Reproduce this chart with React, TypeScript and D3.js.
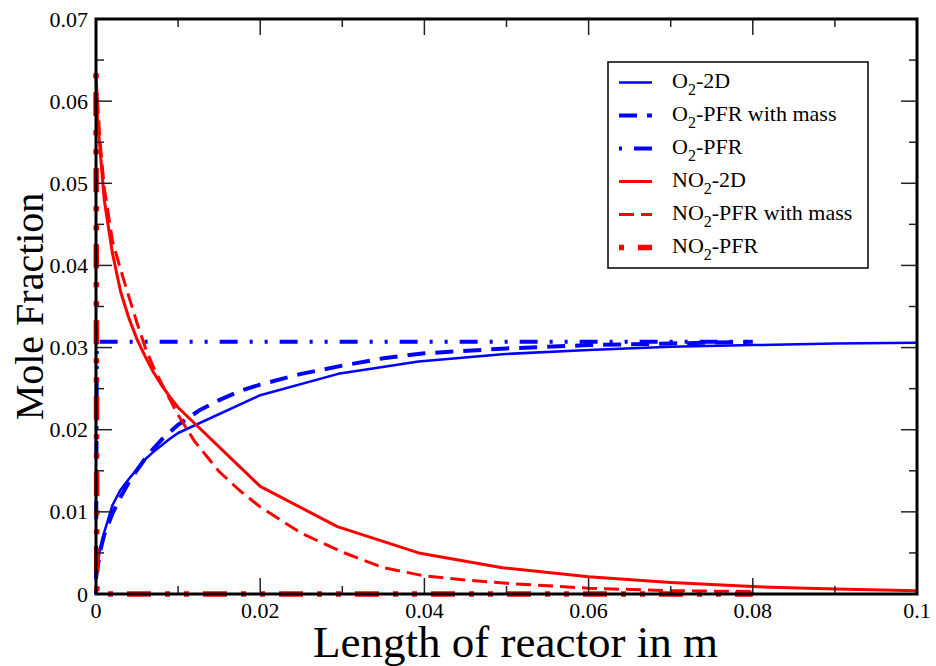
import React from "react";
import * as d3 from "d3";

// ---------- data ----------
const X_TICKS = [0, 0.02, 0.04, 0.06, 0.08, 0.1];
const X_TICK_LABELS = ["0", "0.02", "0.04", "0.06", "0.08", "0.1"];
const X_MINOR = [0.01, 0.03, 0.05, 0.07, 0.09];
const Y_TICKS = [0, 0.01, 0.02, 0.03, 0.04, 0.05, 0.06, 0.07];
const Y_TICK_LABELS = ["0", "0.01", "0.02", "0.03", "0.04", "0.05", "0.06", "0.07"];
const Y_MINOR = [0.005, 0.015, 0.025, 0.035, 0.045, 0.055, 0.065];

const O2_2D_X = [0, 0.0005, 0.001, 0.002, 0.003, 0.004, 0.005, 0.006, 0.007, 0.008, 0.009, 0.01, 0.02, 0.0295, 0.0393, 0.0495, 0.06, 0.07, 0.08, 0.09, 0.1];
const O2_2D_Y = [0.0025, 0.0055, 0.0075, 0.0108, 0.0127, 0.014, 0.0152, 0.0164, 0.0173, 0.0181, 0.0189, 0.0196, 0.0242, 0.0268, 0.0283, 0.0292, 0.0297, 0.0301, 0.0303, 0.0305, 0.0306];

const O2_MASS_X = [0, 0.0005, 0.001, 0.002, 0.003, 0.004, 0.005, 0.006, 0.007, 0.008, 0.01, 0.0125, 0.015, 0.0175, 0.02, 0.025, 0.03, 0.035, 0.04, 0.05, 0.06, 0.07, 0.08];
const O2_MASS_Y = [0.002, 0.0052, 0.0072, 0.0098, 0.0118, 0.0136, 0.0151, 0.0165, 0.0177, 0.0188, 0.0206, 0.0223, 0.0236, 0.0247, 0.0255, 0.0268, 0.0278, 0.0287, 0.0293, 0.0299, 0.0303, 0.0305, 0.0307];

const O2_PFR_X = [0, 0.0001, 0.04, 0.08];
const O2_PFR_Y = [0, 0.0307, 0.0307, 0.0307];

const NO2_2D_X = [0, 0.0005, 0.001, 0.002, 0.003, 0.004, 0.005, 0.006, 0.007, 0.008, 0.009, 0.01, 0.02, 0.0294, 0.0393, 0.0495, 0.06, 0.07, 0.08, 0.09, 0.1];
const NO2_2D_Y = [0.06, 0.054, 0.048, 0.0415, 0.0368, 0.0336, 0.031, 0.0289, 0.027, 0.0254, 0.024, 0.0227, 0.0131, 0.0082, 0.005, 0.0032, 0.0021, 0.0014, 0.0009, 0.0006, 0.0004];

const NO2_MASS_X = [0, 0.0005, 0.001, 0.002, 0.003, 0.004, 0.005, 0.006, 0.007, 0.008, 0.01, 0.012, 0.015, 0.0175, 0.02, 0.025, 0.03, 0.035, 0.04, 0.045, 0.05, 0.06, 0.07, 0.08];
const NO2_MASS_Y = [0.063, 0.055, 0.0495, 0.043, 0.0395, 0.0362, 0.033, 0.03, 0.0276, 0.0256, 0.0218, 0.0186, 0.0149, 0.0126, 0.0106, 0.0074, 0.0051, 0.0032, 0.0022, 0.0017, 0.0013, 0.0007, 0.0004, 0.0003];

const NO2_PFR_X = [0, 0.0001, 0.04, 0.08];
const NO2_PFR_Y = [0.0634, 0, 0, 0];

const SERIES_NAMES = ["O2-2D", "O2-PFR with mass", "O2-PFR", "NO2-2D", "NO2-PFR with mass", "NO2-PFR"];
const LEGEND_PREFIX = ["O", "O", "O", "NO", "NO", "NO"];
const LEGEND_SUFFIX = ["-2D", "-PFR with mass", "-PFR", "-2D", "-PFR with mass", "-PFR"];

// ---------- layout / style ----------
const W = 936;
const H = 666;
const M = { left: 96, top: 19, right: 19, bottom: 72 };
const FONT = "Liberation Serif, Times New Roman, Times, serif";

const STYLES = [
  { color: "#0000ff", width: 2.5, dash: "none" },
  { color: "#0000ff", width: 4, dash: "18,10" },
  { color: "#0000ff", width: 4, dash: "3,12,18,12,3,12" },
  { color: "#ff0000", width: 3, dash: "none" },
  { color: "#ff0000", width: 3, dash: "15,7" },
  { color: "#ff0000", width: 5.5, dash: "5,14,24,14,5,14" },
];

export default function App() {
  const x = d3.scaleLinear().domain([0, 0.1]).range([M.left, W - M.right]);
  const y = d3.scaleLinear().domain([0, 0.07]).range([H - M.bottom, M.top]);

  const seriesData = [
    [O2_2D_X, O2_2D_Y],
    [O2_MASS_X, O2_MASS_Y],
    [O2_PFR_X, O2_PFR_Y],
    [NO2_2D_X, NO2_2D_Y],
    [NO2_MASS_X, NO2_MASS_Y],
    [NO2_PFR_X, NO2_PFR_Y],
  ].map(([xs, ys]) => xs.map((v, i) => [v, ys[i]] as [number, number]));

  const line = d3
    .line<[number, number]>()
    .x((d) => x(d[0]))
    .y((d) => y(d[1]));

  const x0 = x(0), x1 = x(0.1), y0 = y(0), y1 = y(0.07);
  const MAJ = 16, MIN = 8;

  const legendX = 608, legendY = 62, legendW = 260, legendH = 206;
  const rowY = (i: number) => 82.5 + i * 33;
  const tf = { fontFamily: FONT };

  return (
    <svg
      width={W}
      height={H}
      style={{ position: "absolute", left: 0, top: 0, background: "#fff", fontFamily: FONT }}
    >
      <rect x={0} y={0} width={W} height={H} fill="#fff" />
      {/* series */}
      <g fill="none">
        {seriesData.map((d, i) => (
          <path
            key={SERIES_NAMES[i]}
            d={line(d) || ""}
            stroke={STYLES[i].color}
            strokeWidth={STYLES[i].width}
            strokeDasharray={STYLES[i].dash}
            strokeLinejoin="round"
          />
        ))}
      </g>
      {/* ticks */}
      <g stroke="#222" strokeWidth={1.5}>
        {X_TICKS.map((t) => (
          <g key={"xt" + t}>
            <line x1={x(t)} x2={x(t)} y1={y0} y2={y0 - MAJ} />
            <line x1={x(t)} x2={x(t)} y1={y1} y2={y1 + MAJ} />
          </g>
        ))}
        {X_MINOR.map((t) => (
          <g key={"xm" + t}>
            <line x1={x(t)} x2={x(t)} y1={y0} y2={y0 - MIN} />
            <line x1={x(t)} x2={x(t)} y1={y1} y2={y1 + MIN} />
          </g>
        ))}
        {Y_TICKS.map((t) => (
          <g key={"yt" + t}>
            <line x1={x0} x2={x0 + MAJ} y1={y(t)} y2={y(t)} />
            <line x1={x1} x2={x1 - MAJ} y1={y(t)} y2={y(t)} />
          </g>
        ))}
        {Y_MINOR.map((t) => (
          <g key={"ym" + t}>
            <line x1={x0} x2={x0 + MIN} y1={y(t)} y2={y(t)} />
            <line x1={x1} x2={x1 - MIN} y1={y(t)} y2={y(t)} />
          </g>
        ))}
      </g>
      {/* frame */}
      <rect x={x0} y={y1} width={x1 - x0} height={y0 - y1} fill="none" stroke="#000" strokeWidth={3} />
      {/* tick labels */}
      <g fontSize={22} fill="#000">
        {X_TICKS.map((t, i) => (
          <text key={"xl" + t} x={x(t)} y={y0 + 24} textAnchor="middle" style={tf}>
            {X_TICK_LABELS[i]}
          </text>
        ))}
        {Y_TICKS.map((t, i) => (
          <text key={"yl" + t} x={x0 - 8} y={y(t) + 7.5} textAnchor="end" style={tf}>
            {Y_TICK_LABELS[i]}
          </text>
        ))}
      </g>
      {/* axis titles */}
      <text x={(x0 + x1) / 2 + 9} y={657} textAnchor="middle" fontSize={45} fill="#000" style={tf}>
        Length of reactor in m
      </text>
      <text
        transform={`translate(43, ${(y0 + y1) / 2}) rotate(-90)`}
        textAnchor="middle"
        fontSize={40}
        fill="#000"
        style={tf}
      >
        Mole Fraction
      </text>
      {/* legend */}
      <rect x={legendX} y={legendY} width={legendW} height={legendH} fill="#fff" stroke="#000" strokeWidth={1.5} />
      {SERIES_NAMES.map((name, i) => (
        <g key={"lg" + name}>
          <line
            x1={619}
            x2={652}
            y1={rowY(i)}
            y2={rowY(i)}
            stroke={STYLES[i].color}
            strokeWidth={STYLES[i].width}
            strokeDasharray={STYLES[i].dash}
          />
          <text x={672} y={rowY(i) + 5} fontSize={22} fill="#000" style={tf}>
            <tspan>{LEGEND_PREFIX[i]}</tspan>
            <tspan fontSize={16} dy={7}>2</tspan>
            <tspan dy={-7}>{LEGEND_SUFFIX[i]}</tspan>
          </text>
        </g>
      ))}
    </svg>
  );
}
